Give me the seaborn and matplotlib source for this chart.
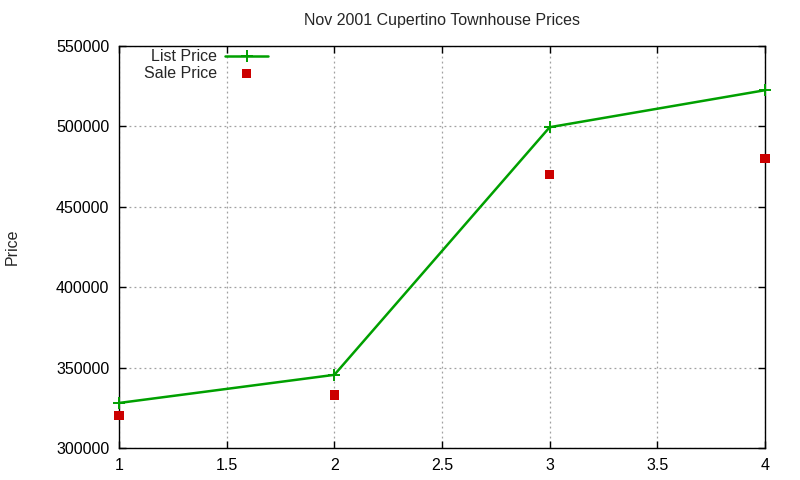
import matplotlib
matplotlib.use("Agg")
import matplotlib.pyplot as plt
import seaborn as sns
import pandas as pd

# values
units = [1, 2, 3, 4]
list_price = [328000, 345500, 499500, 522500]
sale_price = [320000, 333000, 470000, 480000]

sns.set_style("ticks")
plt.rcParams['font.family'] = ['Liberation Sans', 'DejaVu Sans']

df = pd.DataFrame({'x': units, 'list': list_price, 'sale': sale_price})

fig = plt.figure(figsize=(8, 4.8), dpi=100)
ax = fig.add_axes([119 / 800, 1 - 448 / 480, (765 - 119) / 800, (448 - 46) / 480])

sns.lineplot(data=df, x='x', y='list', ax=ax, color='#00a000', linewidth=1.8,
             marker='+', markersize=8, markeredgewidth=1.4,
             markeredgecolor='#00a000', label='List Price', clip_on=False, zorder=3)
sns.scatterplot(data=df, x='x', y='sale', ax=ax, color='#cc0000', marker='s',
                s=45, edgecolor='none', label='Sale Price', zorder=4, clip_on=False)

ax.set_xlim(1, 4)
ax.set_ylim(300000, 550000)
ax.set_xticks([1, 1.5, 2, 2.5, 3, 3.5, 4])
ax.set_xticklabels(['1', '1.5', '2', '2.5', '3', '3.5', '4'])
ax.set_yticks(range(300000, 550001, 50000))
ax.set_yticklabels([str(v) for v in range(300000, 550001, 50000)])
ax.grid(True, linestyle=(0, (1.5, 2.5)), color='#a0a0a0', linewidth=0.9)
ax.tick_params(direction='in', top=True, right=True, length=5, width=1,
               labelsize=11.5, colors='black', pad=7)
for s in ax.spines.values():
    s.set_color('black')
    s.set_linewidth(1)

ax.set_xlabel('')
ax.set_ylabel('Price', fontsize=11.5)
ax.yaxis.set_label_coords(-0.154, 0.5)
ax.set_title('Nov 2001 Cupertino Townhouse Prices', fontsize=11.5, pad=15)

leg = ax.legend(loc='upper left', bbox_to_anchor=(0.029, 1.008), frameon=False,
                markerfirst=False, fontsize=11.5, handlelength=2.7,
                borderaxespad=0.0, labelspacing=0.1, handletextpad=0.5)
for t in leg.get_texts():
    t.set_ha('right')
for h in leg.legend_handles:
    h.set_clip_on(False)

fig.savefig('out.png', dpi=100)
